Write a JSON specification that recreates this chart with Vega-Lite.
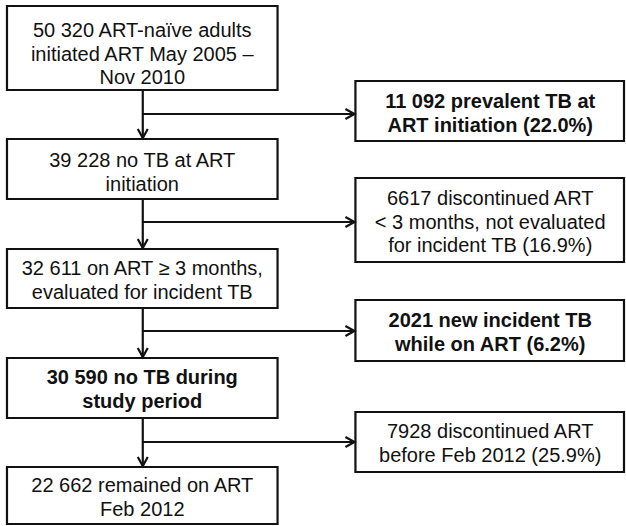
{
  "$schema": "https://vega.github.io/schema/vega-lite/v6.json",
  "width": 626,
  "height": 526,
  "autosize": {"type": "fit", "contains": "padding"},
  "padding": 0,
  "background": "white",
  "config": {"view": {"stroke": null}},
  "datasets": {
    "boxes": [
      {"x": 7, "x2": 278, "y": 6, "y2": 90},
      {"x": 7, "x2": 278, "y": 139, "y2": 199},
      {"x": 7, "x2": 278, "y": 249, "y2": 308},
      {"x": 7, "x2": 278, "y": 358, "y2": 418},
      {"x": 7, "x2": 278, "y": 467, "y2": 524},
      {"x": 356, "x2": 625, "y": 81, "y2": 141},
      {"x": 356, "x2": 625, "y": 178, "y2": 262},
      {"x": 356, "x2": 625, "y": 300, "y2": 361},
      {"x": 356, "x2": 625, "y": 412, "y2": 472}
    ],
    "lines": [
      {"x": 143, "y": 90, "x2": 143, "y2": 139},
      {"x": 143, "y": 199, "x2": 143, "y2": 249},
      {"x": 143, "y": 308, "x2": 143, "y2": 358},
      {"x": 143, "y": 418, "x2": 143, "y2": 467},
      {"x": 143, "y": 114, "x2": 355, "y2": 114},
      {"x": 143, "y": 222, "x2": 355, "y2": 222},
      {"x": 143, "y": 331, "x2": 355, "y2": 331},
      {"x": 143, "y": 442, "x2": 355, "y2": 442}
    ],
    "heads": [
      {"x": 143, "y": 138, "dir": "down"},
      {"x": 143, "y": 248, "dir": "down"},
      {"x": 143, "y": 357, "dir": "down"},
      {"x": 143, "y": 466, "dir": "down"},
      {"x": 355, "y": 114, "dir": "right"},
      {"x": 355, "y": 222, "dir": "right"},
      {"x": 355, "y": 331, "dir": "right"},
      {"x": 355, "y": 442, "dir": "right"}
    ],
    "labels": [
      {"x": 142.5, "y": 37, "bold": false, "label": "50 320 ART-naïve adults\ninitiated ART May 2005 –\nNov 2010"},
      {"x": 142.5, "y": 167, "bold": false, "label": "39 228 no TB at ART\ninitiation"},
      {"x": 142.5, "y": 275, "bold": false, "label": "32 611 on ART ≥ 3 months,\nevaluated for incident TB"},
      {"x": 142.5, "y": 384, "bold": true, "label": "30 590 no TB during\nstudy period"},
      {"x": 142.5, "y": 492, "bold": false, "label": "22 662 remained on ART\nFeb 2012"},
      {"x": 491, "y": 108, "bold": true, "label": "11 092 prevalent TB at\nART initiation (22.0%)"},
      {"x": 491, "y": 205, "bold": false, "label": "6617 discontinued ART\n< 3 months, not evaluated\nfor incident TB (16.9%)"},
      {"x": 491, "y": 327, "bold": true, "label": "2021 new incident TB\nwhile on ART (6.2%)"},
      {"x": 491, "y": 438, "bold": false, "label": "7928 discontinued ART\nbefore Feb 2012 (25.9%)"}
    ]
  },
  "layer": [
    {
      "data": {"name": "lines"},
      "mark": {"type": "rule", "color": "#111", "strokeWidth": 2.2},
      "encoding": {
        "x": {"field": "x", "type": "quantitative", "scale": {"domain": [0, 626], "nice": false, "zero": false}, "axis": null},
        "x2": {"field": "x2"},
        "y": {"field": "y", "type": "quantitative", "scale": {"domain": [0, 526], "nice": false, "zero": false, "reverse": true}, "axis": null},
        "y2": {"field": "y2"}
      }
    },
    {
      "data": {"name": "boxes"},
      "mark": {"type": "rect", "fill": "white", "stroke": "#111", "strokeWidth": 2.2},
      "encoding": {
        "x": {"field": "x", "type": "quantitative", "scale": {"domain": [0, 626], "nice": false, "zero": false}, "axis": null},
        "x2": {"field": "x2"},
        "y": {"field": "y", "type": "quantitative", "scale": {"domain": [0, 526], "nice": false, "zero": false, "reverse": true}, "axis": null},
        "y2": {"field": "y2"}
      }
    },
    {
      "data": {"name": "heads"},
      "mark": {"type": "point", "filled": false, "stroke": "#111", "strokeWidth": 2.2, "size": 100, "opacity": 1},
      "encoding": {
        "x": {"field": "x", "type": "quantitative", "scale": {"domain": [0, 626], "nice": false, "zero": false}, "axis": null},
        "y": {"field": "y", "type": "quantitative", "scale": {"domain": [0, 526], "nice": false, "zero": false, "reverse": true}, "axis": null},
        "shape": {
          "field": "dir",
          "type": "nominal",
          "scale": {"domain": ["down", "right"], "range": ["M-1,-1.8L0,0L1,-1.8", "M-1.8,-1L0,0L-1.8,1"]},
          "legend": null
        }
      }
    },
    {
      "data": {"name": "labels"},
      "transform": [{"filter": "!datum.bold"}],
      "mark": {"type": "text", "font": "Liberation Sans", "fontSize": 20, "lineBreak": "\n", "lineHeight": 23.5, "align": "center", "baseline": "alphabetic", "color": "#111"},
      "encoding": {
        "x": {"field": "x", "type": "quantitative", "scale": {"domain": [0, 626], "nice": false, "zero": false}, "axis": null},
        "y": {"field": "y", "type": "quantitative", "scale": {"domain": [0, 526], "nice": false, "zero": false, "reverse": true}, "axis": null},
        "text": {"field": "label", "type": "nominal"}
      }
    },
    {
      "data": {"name": "labels"},
      "transform": [{"filter": "datum.bold"}],
      "mark": {"type": "text", "font": "Liberation Sans", "fontSize": 20, "fontWeight": "bold", "lineBreak": "\n", "lineHeight": 23.5, "align": "center", "baseline": "alphabetic", "color": "#111"},
      "encoding": {
        "x": {"field": "x", "type": "quantitative", "scale": {"domain": [0, 626], "nice": false, "zero": false}, "axis": null},
        "y": {"field": "y", "type": "quantitative", "scale": {"domain": [0, 526], "nice": false, "zero": false, "reverse": true}, "axis": null},
        "text": {"field": "label", "type": "nominal"}
      }
    }
  ]
}
